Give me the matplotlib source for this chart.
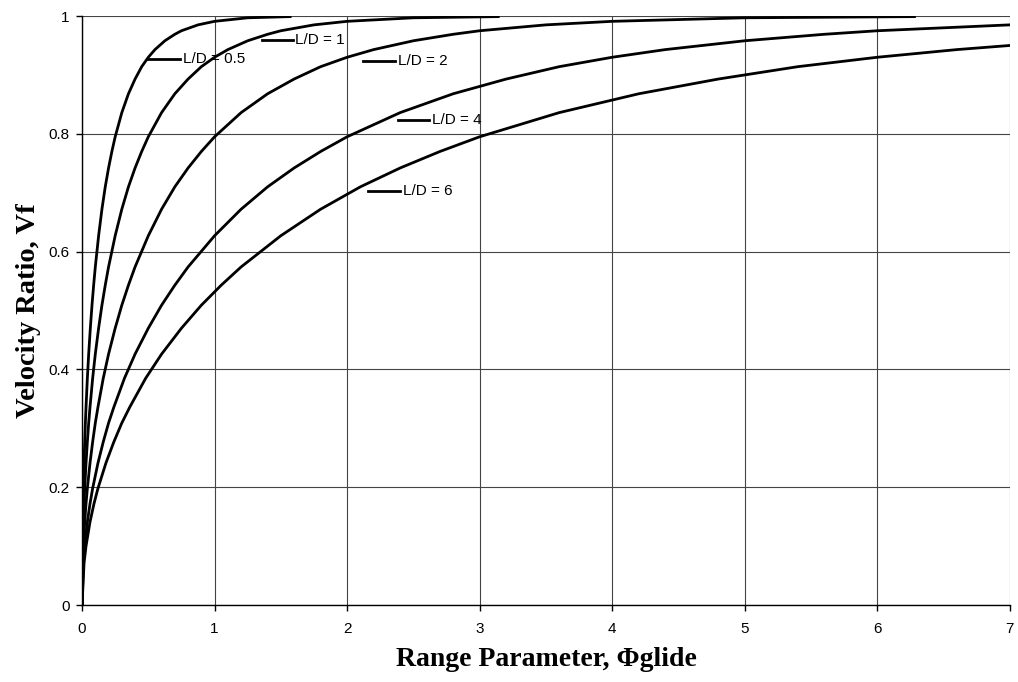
import matplotlib.pyplot as plt

# Velocity ratio vs range parameter, one curve per lift/drag ratio
ld_labels = ['L/D = 0.5', 'L/D = 1', 'L/D = 2', 'L/D = 4', 'L/D = 6']

x_05 = [0, 0.00125, 0.0025, 0.005, 0.0075, 0.01, 0.015, 0.02, 0.025, 0.03, 0.04, 0.05,
        0.0625, 0.075, 0.0875, 0.1, 0.125, 0.15, 0.175, 0.2, 0.225, 0.25, 0.3, 0.35,
        0.4, 0.45, 0.5, 0.55, 0.625, 0.7, 0.75, 0.875, 1.0, 1.25, 1.57]
y_05 = [0, 0.071, 0.100, 0.141, 0.172, 0.198, 0.241, 0.277, 0.309, 0.336, 0.385, 0.426,
        0.470, 0.509, 0.543, 0.574, 0.627, 0.672, 0.710, 0.742, 0.770, 0.795, 0.836, 0.868,
        0.893, 0.914, 0.930, 0.943, 0.958, 0.969, 0.975, 0.985, 0.991, 0.997, 0.999]

x_1 = [0, 0.0025, 0.005, 0.01, 0.015, 0.02, 0.03, 0.04, 0.05, 0.06, 0.08, 0.1,
       0.125, 0.15, 0.175, 0.2, 0.25, 0.3, 0.35, 0.4, 0.45, 0.5, 0.6, 0.7,
       0.8, 0.9, 1.0, 1.1, 1.25, 1.4, 1.5, 1.75, 2.0, 2.5, 3.14]
y_1 = [0, 0.071, 0.100, 0.141, 0.172, 0.198, 0.241, 0.277, 0.309, 0.336, 0.385, 0.426,
       0.470, 0.509, 0.543, 0.574, 0.627, 0.672, 0.710, 0.742, 0.770, 0.795, 0.836, 0.868,
       0.893, 0.914, 0.930, 0.943, 0.958, 0.969, 0.975, 0.985, 0.991, 0.997, 0.999]

x_2 = [0, 0.005, 0.01, 0.02, 0.03, 0.04, 0.06, 0.08, 0.1, 0.12, 0.16, 0.2,
       0.25, 0.3, 0.35, 0.4, 0.5, 0.6, 0.7, 0.8, 0.9, 1.0, 1.2, 1.4,
       1.6, 1.8, 2.0, 2.2, 2.5, 2.8, 3.0, 3.5, 4.0, 5.0, 6.28]
y_2 = [0, 0.071, 0.100, 0.141, 0.172, 0.198, 0.241, 0.277, 0.309, 0.336, 0.385, 0.426,
       0.470, 0.509, 0.543, 0.574, 0.627, 0.672, 0.710, 0.742, 0.770, 0.795, 0.836, 0.868,
       0.893, 0.914, 0.930, 0.943, 0.958, 0.969, 0.975, 0.985, 0.991, 0.997, 0.999]

x_4 = [0, 0.01, 0.02, 0.04, 0.06, 0.08, 0.12, 0.16, 0.2, 0.24, 0.32, 0.4,
       0.5, 0.6, 0.7, 0.8, 1.0, 1.2, 1.4, 1.6, 1.8, 2.0, 2.4, 2.8,
       3.2, 3.6, 4.0, 4.4, 5.0, 5.6, 6.0, 7.0]
y_4 = [0, 0.071, 0.100, 0.141, 0.172, 0.198, 0.241, 0.277, 0.309, 0.336, 0.385, 0.426,
       0.470, 0.509, 0.543, 0.574, 0.627, 0.672, 0.710, 0.742, 0.770, 0.795, 0.836, 0.868,
       0.893, 0.914, 0.930, 0.943, 0.958, 0.969, 0.975, 0.985]

x_6 = [0, 0.015, 0.03, 0.06, 0.09, 0.12, 0.18, 0.24, 0.3, 0.36, 0.48, 0.6,
       0.75, 0.9, 1.05, 1.2, 1.5, 1.8, 2.1, 2.4, 2.7, 3.0, 3.6, 4.2,
       4.8, 5.4, 6.0, 6.6, 7.0]
y_6 = [0, 0.071, 0.100, 0.141, 0.172, 0.198, 0.241, 0.277, 0.309, 0.336, 0.385, 0.426,
       0.470, 0.509, 0.543, 0.574, 0.627, 0.672, 0.710, 0.742, 0.770, 0.795, 0.836, 0.868,
       0.893, 0.914, 0.930, 0.943, 0.950]

# label leader lines: (x start, x end, y)
leader_x0 = [0.50, 1.36, 2.12, 2.38, 2.16]
leader_x1 = [0.74, 1.59, 2.36, 2.62, 2.40]
leader_y = [0.927, 0.960, 0.924, 0.823, 0.703]

fig = plt.figure(figsize=(10.18, 6.82), dpi=100)
ax = fig.add_axes([0.0806, 0.1129, 0.9114, 0.8636])

for xs, ys in [(x_05, y_05), (x_1, y_1), (x_2, y_2), (x_4, y_4), (x_6, y_6)]:
    ax.plot(xs, ys, color='black', lw=2.0, solid_joinstyle='round', zorder=3)

for lab, a, b, y in zip(ld_labels, leader_x0, leader_x1, leader_y):
    ax.plot([a, b], [y, y], color='black', lw=2.0, zorder=3)
    ax.text(b + 0.02, y, lab, fontsize=11, family='Liberation Sans',
            va='center', ha='left', zorder=4)

ax.set_xlim(0, 7)
ax.set_ylim(0, 1)
ax.set_xticks(range(0, 8))
ax.set_yticks([0, 0.2, 0.4, 0.6, 0.8, 1.0])
ax.set_yticklabels(['0', '0.2', '0.4', '0.6', '0.8', '1'])
ax.grid(True, color='#444444', lw=0.8)
ax.set_axisbelow(True)
for side in ['top', 'right']:
    ax.spines[side].set_visible(False)
for side in ['left', 'bottom']:
    ax.spines[side].set_linewidth(1.0)
ax.tick_params(direction='out', length=4, width=1, labelsize=11)
ax.tick_params(axis='x', pad=8)
ax.tick_params(axis='y', pad=5)
for t in ax.get_xticklabels() + ax.get_yticklabels():
    t.set_family('Liberation Sans')

ax.set_xlabel('Range Parameter, Φglide', fontsize=20, fontweight='bold',
              family='Liberation Serif', labelpad=8)
ax.set_ylabel('Velocity Ratio, Vf', fontsize=20.5, fontweight='bold',
              family='Liberation Serif', labelpad=5)

fig.savefig('out.png', dpi=100)
